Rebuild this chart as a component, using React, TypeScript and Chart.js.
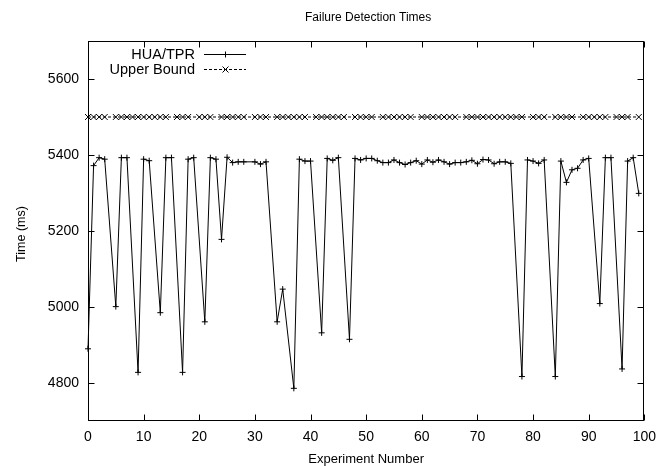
import React, { useEffect, useRef } from "react";
import { Chart, registerables } from "chart.js";

Chart.register(...registerables);

// ---- data ----
const HUA_X = [
  0, 1, 2, 3, 5, 6, 7, 9, 10, 11, 13, 14, 15, 17, 18, 19, 21, 22, 23, 24,
  25, 26, 27, 28, 30, 31, 32, 34, 35, 37, 38, 39, 40, 42, 43, 44, 45, 47, 48,
  49, 50, 51, 52, 53, 54, 55, 56, 57, 58, 59, 60, 61, 62, 63, 64, 65, 66, 67,
  68, 69, 70, 71, 72, 73, 74, 75, 76, 78, 79, 80, 81, 82, 84, 85, 86, 87, 88,
  89, 90, 92, 93, 94, 96, 97, 98, 99,
];
const HUA_Y = [
  4890, 5372, 5393, 5389, 5001, 5393, 5393, 4828, 5389, 5385, 4985, 5393, 5393,
  4828, 5389, 5393, 4961, 5393, 5389, 5178, 5394, 5380, 5382, 5382, 5382, 5376,
  5382, 4961, 5047, 4786, 5389, 5384, 5384, 4932, 5391, 5386, 5393, 4915, 5391,
  5387, 5391, 5391, 5385, 5380, 5380, 5387, 5380, 5375, 5380, 5385, 5376, 5387,
  5381, 5387, 5382, 5376, 5380, 5380, 5382, 5386, 5377, 5388, 5387, 5377, 5382,
  5382, 5378, 4817, 5387, 5384, 5378, 5387, 4817, 5384, 5328, 5361, 5365, 5387,
  5391, 5009, 5393, 5393, 4837, 5384, 5393, 5299,
];
const UPPER_X = [
  0, 1, 2, 3, 5, 6, 7, 8, 9, 10, 11, 12, 13, 14, 16, 17, 18, 20, 21, 22, 24,
  25, 26, 27, 28, 30, 31, 32, 34, 35, 36, 37, 38, 39, 41, 42, 43, 44, 45, 46,
  48, 49, 50, 51, 53, 54, 55, 56, 57, 58, 60, 61, 62, 63, 64, 65, 66, 68, 69,
  70, 71, 72, 73, 74, 75, 76, 77, 78, 80, 81, 82, 84, 85, 86, 87, 89, 90, 91,
  92, 93, 95, 96, 97, 99,
];
const UPPER_Y = [
  5500, 5500, 5500, 5500, 5500, 5500, 5500, 5500, 5500, 5500, 5500, 5500, 5500,
  5500, 5500, 5500, 5500, 5500, 5500, 5500, 5500, 5500, 5500, 5500, 5500, 5500,
  5500, 5500, 5500, 5500, 5500, 5500, 5500, 5500, 5500, 5500, 5500, 5500, 5500,
  5500, 5500, 5500, 5500, 5500, 5500, 5500, 5500, 5500, 5500, 5500, 5500, 5500,
  5500, 5500, 5500, 5500, 5500, 5500, 5500, 5500, 5500, 5500, 5500, 5500, 5500,
  5500, 5500, 5500, 5500, 5500, 5500, 5500, 5500, 5500, 5500, 5500, 5500, 5500,
  5500, 5500, 5500, 5500, 5500, 5500,
];
const X_TICKS = [0, 10, 20, 30, 40, 50, 60, 70, 80, 90, 100];
const Y_TICKS = [4800, 5000, 5200, 5400, 5600];
const X_RANGE = [0, 100];
const Y_RANGE = [4700, 5700];
const SERIES_NAMES = ["HUA/TPR", "Upper Bound"];
const TITLE = "Failure Detection Times";
const X_LABEL = "Experiment Number";
const Y_LABEL = "Time (ms)";

const FONT_FAMILY = '"Liberation Sans", Arial, Helvetica, sans-serif';

const gnuplotFrame = {
  id: "gnuplotFrame",
  afterDraw(chart: any) {
    const { ctx, chartArea: a, scales } = chart;
    const xs = scales.x;
    const ys = scales.y;
    ctx.save();
    ctx.strokeStyle = "#000";
    ctx.fillStyle = "#000";
    ctx.lineWidth = 1;
    ctx.setLineDash([]);
    const L = Math.round(a.left) + 0.5;
    const R = Math.round(a.right) - 0.5;
    const T = Math.round(a.top) + 0.5;
    const B = Math.round(a.bottom) - 0.5;
    ctx.strokeRect(L, T, R - L, B - T);
    const tl = 6;
    ctx.beginPath();
    for (const v of X_TICKS) {
      const px = Math.round(xs.getPixelForValue(v)) + 0.5;
      ctx.moveTo(px, B);
      ctx.lineTo(px, B - tl);
      ctx.moveTo(px, T);
      ctx.lineTo(px, T + tl);
    }
    for (const v of Y_TICKS) {
      const py = Math.round(ys.getPixelForValue(v)) + 0.5;
      ctx.moveTo(L, py);
      ctx.lineTo(L + tl, py);
      ctx.moveTo(R, py);
      ctx.lineTo(R - tl, py);
    }
    ctx.stroke();

    // titles
    ctx.textAlign = "center";
    ctx.textBaseline = "middle";
    const cx = (a.left + a.right) / 2;
    ctx.font = `12px ${FONT_FAMILY}`;
    ctx.fillText(TITLE, cx + 2, 18);
    ctx.font = `13px ${FONT_FAMILY}`;
    ctx.fillText(X_LABEL, cx, 459);
    ctx.font = `12.5px ${FONT_FAMILY}`;
    ctx.save();
    ctx.translate(22, (a.top + a.bottom) / 2 + 3);
    ctx.rotate(-Math.PI / 2);
    ctx.fillText(Y_LABEL, 0, 0);
    ctx.restore();

    // legend (gnuplot style: right-aligned text, sample on the right)
    const rows = [54.5, 69.5];
    ctx.font = `14.5px ${FONT_FAMILY}`;
    ctx.textAlign = "right";
    ctx.textBaseline = "middle";
    SERIES_NAMES.forEach((name, i) => {
      const y = rows[i];
      ctx.fillText(name, 195, y);
      ctx.beginPath();
      ctx.setLineDash(i === 1 ? [3, 2] : []);
      ctx.moveTo(204, y);
      ctx.lineTo(246, y);
      ctx.stroke();
      ctx.setLineDash([]);
      ctx.beginPath();
      const mx = 225.5;
      if (i === 0) {
        ctx.moveTo(mx - 3, y);
        ctx.lineTo(mx + 3, y);
        ctx.moveTo(mx, y - 3);
        ctx.lineTo(mx, y + 3);
      } else {
        ctx.moveTo(mx - 3, y - 3);
        ctx.lineTo(mx + 3, y + 3);
        ctx.moveTo(mx - 3, y + 3);
        ctx.lineTo(mx + 3, y - 3);
      }
      ctx.stroke();
    });
    ctx.restore();
  },
};

export default function App() {
  const ref = useRef<HTMLCanvasElement | null>(null);

  useEffect(() => {
    if (!ref.current) return;
    const hua = HUA_X.map((x, i) => ({ x, y: HUA_Y[i] }));
    const upper = UPPER_X.map((x, i) => ({ x, y: UPPER_Y[i] }));
    const chart = new Chart(ref.current, {
      type: "line",
      data: {
        datasets: [
          {
            label: SERIES_NAMES[0],
            data: hua,
            borderColor: "#000",
            backgroundColor: "#000",
            borderWidth: 1,
            pointStyle: "cross",
            pointRadius: 3,
            pointBorderWidth: 1,
            pointBorderColor: "#000",
            tension: 0,
            fill: false,
            clip: false as any,
          },
          {
            label: SERIES_NAMES[1],
            data: upper,
            borderColor: "#000",
            backgroundColor: "#000",
            borderWidth: 1,
            borderDash: [3, 2],
            pointStyle: "crossRot",
            pointRadius: 4.2,
            pointBorderWidth: 1,
            pointBorderColor: "#000",
            tension: 0,
            fill: false,
            clip: false as any,
          },
        ],
      },
      options: {
        responsive: false,
        animation: false,
        layout: { padding: { left: 0, right: 15, top: 41, bottom: 0 } },
        plugins: {
          legend: { display: false },
          title: { display: false },
          tooltip: { enabled: false },
        },
        scales: {
          x: {
            type: "linear",
            min: X_RANGE[0],
            max: X_RANGE[1],
            grid: { display: false, drawTicks: false },
            border: { display: false },
            ticks: {
              padding: 8,
              color: "#000",
              font: { family: FONT_FAMILY, size: 14 },
              maxRotation: 0,
              callback: (v: any) => String(v),
            },
            afterBuildTicks: (s: any) => {
              s.ticks = X_TICKS.map((v) => ({ value: v }));
            },
            afterFit: (s: any) => {
              s.height = 45;
            },
          },
          y: {
            type: "linear",
            min: Y_RANGE[0],
            max: Y_RANGE[1],
            grid: { display: false, drawTicks: false },
            border: { display: false },
            ticks: {
              padding: 9,
              color: "#000",
              font: { family: FONT_FAMILY, size: 14 },
              callback: (v: any) => String(v),
            },
            afterBuildTicks: (s: any) => {
              s.ticks = Y_TICKS.map((v) => ({ value: v }));
            },
            afterFit: (s: any) => {
              s.width = 88;
            },
          },
        },
      },
      plugins: [gnuplotFrame],
    });
    return () => chart.destroy();
  }, []);

  return (
    <div style={{ position: "fixed", left: 0, top: 0, width: 664, height: 466, background: "#fff" }}>
      <canvas ref={ref} width={664} height={466} style={{ display: "block" }} />
    </div>
  );
}
